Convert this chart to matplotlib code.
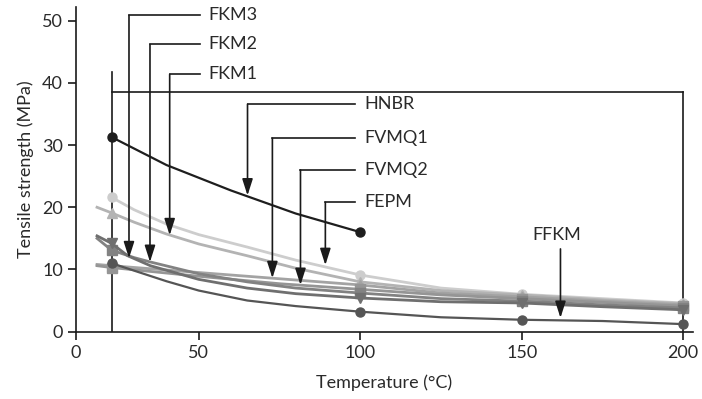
import matplotlib
matplotlib.use("Agg")
import matplotlib.pyplot as plt

plt.rcParams['font.family'] = ['Lato', 'DejaVu Sans']

# measured temperatures (room temp is 23 C), markers are drawn only there
MEASURED = [23, 100, 150, 200]

# each series: temperatures and tensile strength (MPa)
hnbr_t = [23, 40, 60, 80, 100]
hnbr_v = [31.3, 26.8, 22.7, 19.0, 16.0]

fepm_t = [23, 30, 40, 50, 65, 80, 100, 125, 150, 175, 200]
fepm_v = [21.6, 19.6, 17.3, 15.6, 13.6, 11.5, 9.1, 7.0, 6.0, 5.3, 4.6]

fkm1_t = [18.5, 23, 30, 40, 50, 65, 80, 100, 125, 150, 175, 200]
fkm1_v = [20.0, 19.1, 17.6, 15.7, 14.1, 12.2, 10.2, 8.0, 6.6, 5.9, 5.1, 4.5]

fvmq1_t = [18.5, 23, 50, 75, 100, 125, 150, 175, 200]
fvmq1_v = [10.8, 10.6, 9.5, 8.5, 7.5, 6.2, 5.6, 4.9, 4.3]

fvmq2_t = [18.5, 23, 50, 75, 100, 125, 150, 175, 200]
fvmq2_v = [10.6, 10.3, 8.9, 7.7, 6.8, 5.9, 5.3, 4.7, 4.1]

fkm2_t = [18.5, 23, 30, 35, 50, 65, 80, 100, 125, 150, 175, 200]
fkm2_v = [15.0, 13.1, 11.9, 11.2, 9.3, 8.0, 7.0, 6.2, 5.3, 4.9, 4.3, 3.8]

fkm3_t = [18.5, 23, 28, 35, 50, 65, 80, 100, 125, 150, 175, 200]
fkm3_v = [15.4, 14.2, 12.2, 10.6, 8.4, 7.0, 6.1, 5.4, 4.8, 4.6, 4.0, 3.5]

ffkm_t = [23, 30, 40, 50, 65, 80, 100, 125, 150, 175, 200]
ffkm_v = [11.0, 9.8, 8.1, 6.6, 5.0, 4.1, 3.2, 2.3, 1.9, 1.7, 1.2]

series = [
    (fepm_t, fepm_v, '#cdcdcd', 'o'),
    (fkm1_t, fkm1_v, '#b3b3b3', '^'),
    (fvmq1_t, fvmq1_v, '#a3a3a3', '^'),
    (fvmq2_t, fvmq2_v, '#959595', 's'),
    (fkm2_t, fkm2_v, '#828282', 's'),
    (fkm3_t, fkm3_v, '#6f6f6f', 'v'),
    (ffkm_t, ffkm_v, '#555555', 'o'),
    (hnbr_t, hnbr_v, '#1e1e1e', 'o'),
]

# callouts: label, text x, line y, arrow x, arrow tip y
callouts = [
    ('FKM3', 53.1, 50.9, 28.4, 11.8),
    ('FKM2', 53.1, 46.2, 34.9, 11.2),
    ('FKM1', 53.1, 41.4, 41.0, 15.5),
    ('HNBR', 101.2, 36.6, 65.1, 21.9),
    ('FVMQ1', 101.2, 31.1, 72.8, 8.6),
    ('FVMQ2', 101.2, 26.0, 81.5, 7.5),
    ('FEPM', 101.2, 20.8, 89.2, 10.7),
]

fig = plt.figure(figsize=(7.02, 3.99), dpi=100)
ax = fig.add_axes([0.1083, 0.169, 0.8787, 0.813])

for t, v, c, m in series:
    idx = [i for i, x in enumerate(t) if x in MEASURED]
    lw = 1.6 if c in ('#1e1e1e', '#555555') else 2.0
    ax.plot(t, v, color=c, lw=lw, marker=m, markevery=idx, ms=6.5,
            mec=c, mfc=c, zorder=3)

# frame lines of the diagram
ink = '#1a1a1a'
ax.plot([23, 23], [0, 41.7], color=ink, lw=1.2, zorder=2)
ax.plot([23, 200], [38.5, 38.5], color=ink, lw=1.2, zorder=2)
ax.plot([200, 200], [0, 38.5], color=ink, lw=1.2, zorder=2)

arrow = dict(arrowstyle='-|>,head_length=0.5,head_width=0.16', color=ink,
             lw=1.2, mutation_scale=20, shrinkA=0, shrinkB=0)
for lab, tx, ly, axx, tip in callouts:
    ax.plot([axx, tx - 2.8], [ly, ly], color=ink, lw=1.2, zorder=4)
    ax.annotate('', xy=(axx, tip), xytext=(axx, ly), arrowprops=arrow, zorder=4)
    ax.text(tx, ly, lab, fontsize=13, color='#2a2a2a', ha='left', va='center')

ax.annotate('', xy=(162, 2.2), xytext=(162, 13.3), arrowprops=arrow, zorder=4)
ax.text(160.8, 15.6, 'FFKM', fontsize=13, color='#2a2a2a', ha='center', va='center')

ax.set_xlim(12, 203)
ax.set_ylim(0, 52.2)
# the axis origin is labelled 0 in the source figure
ax.set_xticks([12, 50, 100, 150, 200])
ax.set_xticklabels(['0', '50', '100', '150', '200'])
ax.set_yticks([0, 10, 20, 30, 40, 50])

for s in ['top', 'right']:
    ax.spines[s].set_visible(False)
for s in ['left', 'bottom']:
    ax.spines[s].set_color(ink)
    ax.spines[s].set_linewidth(1.2)
ax.tick_params(direction='out', length=6, width=1.2, color=ink,
               labelsize=13, labelcolor='#2a2a2a')

ax.set_xlabel('Temperature (°C)', fontsize=13, color='#2a2a2a', labelpad=10)
ax.set_ylabel('Tensile strength (MPa)', fontsize=13, color='#2a2a2a', labelpad=6)

fig.savefig('out.png', dpi=100)
